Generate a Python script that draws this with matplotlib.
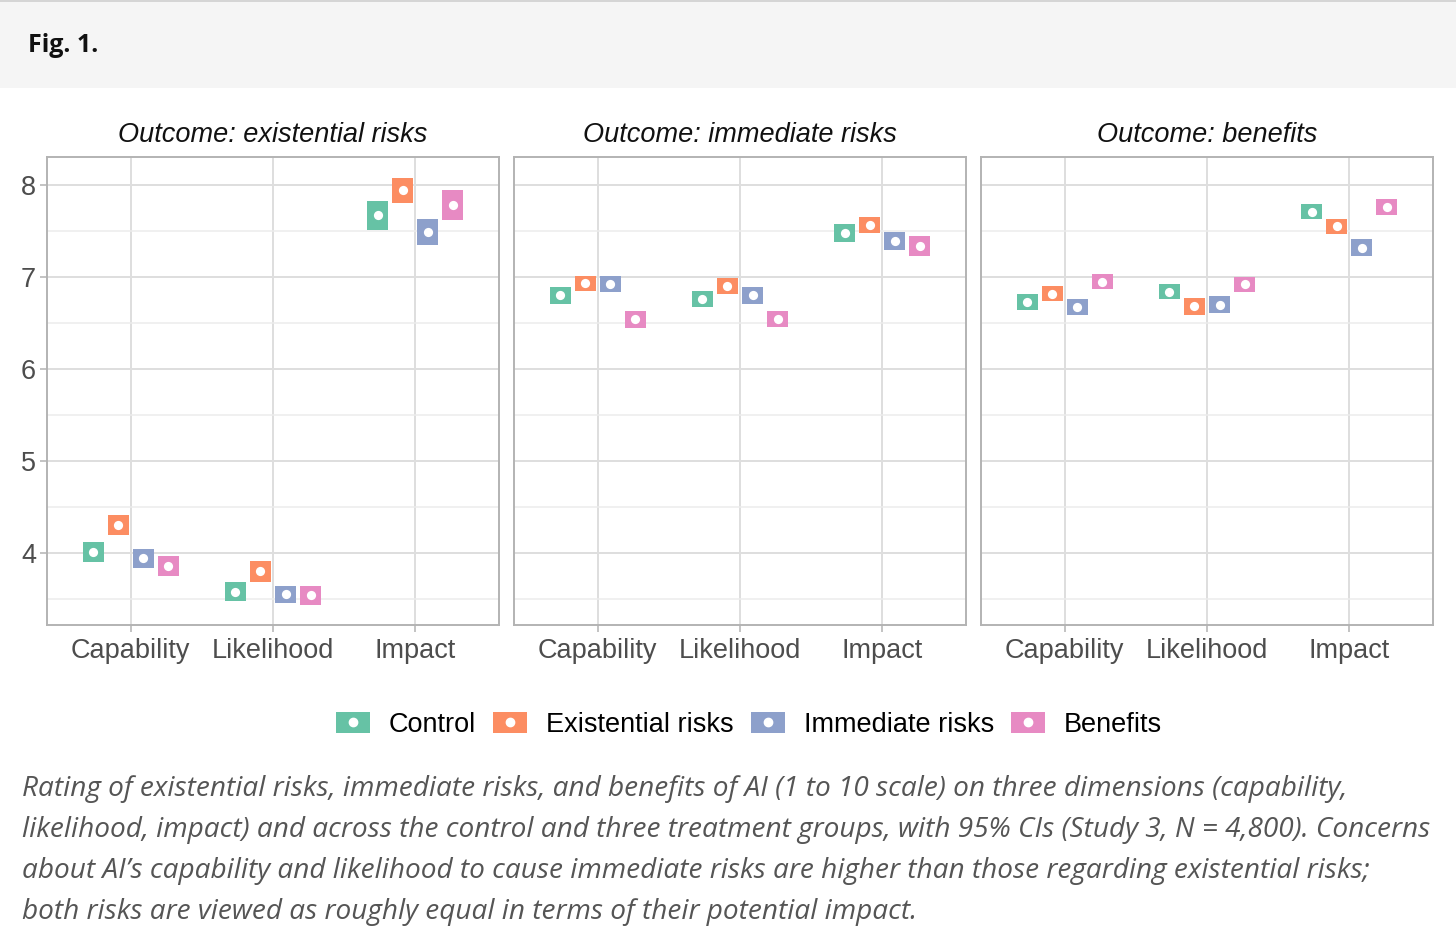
import matplotlib
matplotlib.use("Agg")
import matplotlib.pyplot as plt
from matplotlib.patches import Rectangle, Patch
from matplotlib.lines import Line2D
import numpy as np

# data (rows = groups, cols = dimensions)
categories = ["Capability", "Likelihood", "Impact"]
groups = ["Control", "Existential risks", "Immediate risks", "Benefits"]
outcomes = ["Outcome: existential risks", "Outcome: immediate risks", "Outcome: benefits"]
colors = ["#66C2A5", "#FC8D62", "#8DA0CB", "#E78AC3"]

exist_mean = [[4.01, 3.58, 7.67],
              [4.30, 3.80, 7.94],
              [3.94, 3.55, 7.49],
              [3.86, 3.54, 7.78]]
exist_ci = [[0.11, 0.103, 0.155],
            [0.11, 0.112, 0.135],
            [0.10, 0.096, 0.145],
            [0.105, 0.105, 0.16]]

immed_mean = [[6.80, 6.76, 7.475],
              [6.93, 6.90, 7.565],
              [6.92, 6.80, 7.39],
              [6.54, 6.54, 7.34]]
immed_ci = [[0.09, 0.087, 0.10],
            [0.083, 0.087, 0.085],
            [0.087, 0.089, 0.098],
            [0.09, 0.087, 0.11]]

benef_mean = [[6.73, 6.84, 7.71],
              [6.82, 6.68, 7.55],
              [6.67, 6.70, 7.32],
              [6.95, 6.92, 7.76]]
benef_ci = [[0.087, 0.08, 0.085],
            [0.085, 0.09, 0.085],
            [0.087, 0.089, 0.09],
            [0.083, 0.078, 0.087]]

caption_lines = [
    "Rating of existential risks, immediate risks, and benefits of AI (1 to 10 scale) on three dimensions (capability,",
    "likelihood, impact) and across the control and three treatment groups, with 95% CIs (Study 3, N = 4,800). Concerns",
    "about AI\u2019s capability and likelihood to cause immediate risks are higher than those regarding existential risks;",
    "both risks are viewed as roughly equal in terms of their potential impact.",
]

W, H = 1456, 950
fig = plt.figure(figsize=(W / 100, H / 100), dpi=100)
fig.patch.set_facecolor("white")

# header band
fig.patches.append(Rectangle((0, 1 - 88 / H), 1, 88 / H, transform=fig.transFigure,
                             facecolor="#f5f5f5", edgecolor="none", zorder=0))
fig.add_artist(Line2D([0, 1], [1 - 1 / H, 1 - 1 / H], transform=fig.transFigure,
                      color="#cfcfcf", lw=1.2))
fig.text(28 / W, 1 - 45 / H, "Fig. 1.", family=["Open Sans", "DejaVu Sans"],
         fontweight="bold", fontsize=18, va="center", ha="left", color="#111111")

chart_font = ["Liberation Sans", "DejaVu Sans"]
fs = 19.5
panel_x = [47, 514, 981]
panel_w = 452
top, bottom = 157, 625
means = [exist_mean, immed_mean, benef_mean]
cis = [exist_ci, immed_ci, benef_ci]
offsets = [-0.264, -0.088, 0.088, 0.264]
x = np.arange(1, len(categories) + 1)

for k in range(3):
    ax = fig.add_axes([panel_x[k] / W, 1 - bottom / H, panel_w / W, (bottom - top) / H])
    ax.set_xlim(0.41, 3.59)
    ax.set_ylim(3.217, 8.304)
    ax.set_yticks([4, 5, 6, 7, 8])
    ax.set_yticks([3.5, 4.5, 5.5, 6.5, 7.5], minor=True)
    ax.set_xticks(x)
    ax.set_xticklabels(categories)
    ax.grid(True, which="major", color="#dedede", lw=1.4)
    ax.grid(True, which="minor", axis="y", color="#ececec", lw=1.1)
    ax.set_axisbelow(True)
    for s in ax.spines.values():
        s.set_color("#b3b3b3")
        s.set_linewidth(1.4)
    ax.tick_params(axis="both", which="major", color="#b3b3b3", length=5, width=1.1,
                   labelsize=fs, labelcolor="#4d4d4d", pad=3)
    ax.tick_params(axis="x", which="major", pad=4.5)
    ax.tick_params(axis="y", which="minor", length=0)
    for lab in ax.get_xticklabels() + ax.get_yticklabels():
        lab.set_family(chart_font)
    if k > 0:
        ax.tick_params(axis="y", which="major", length=0, labelleft=False)

    for g in range(len(groups)):
        m = np.array(means[k][g])
        c = np.array(cis[k][g])
        ax.bar(x + offsets[g], 2 * c, bottom=m - c, width=0.15,
               color=colors[g], edgecolor="none", zorder=3)
        ax.scatter(x + offsets[g], m, s=44, color="white", zorder=4, linewidths=0)

    ax.set_title(outcomes[k], family=chart_font, style="italic", fontsize=fs,
                 color="#111111", pad=10.5)

# legend
handles = [(Patch(facecolor=colors[g], edgecolor="none"),
            Line2D([], [], marker="o", ls="none", color="white", markersize=6))
           for g in range(len(groups))]
fig.legend(handles, groups, loc="center", bbox_to_anchor=(749 / W, 1 - 725 / H),
           ncol=4, frameon=False, prop={"family": chart_font, "size": fs},
           handlelength=1.26, handleheight=0.81, handletextpad=0.7, columnspacing=0.62)

# caption
for i, line in enumerate(caption_lines):
    fig.text(22 / W, 1 - (789 + 41 * i) / H, line, family=["Open Sans", "DejaVu Sans"],
             style="italic", fontsize=20.15, color="#555555", va="center", ha="left")

fig.savefig("out.png", dpi=100)
